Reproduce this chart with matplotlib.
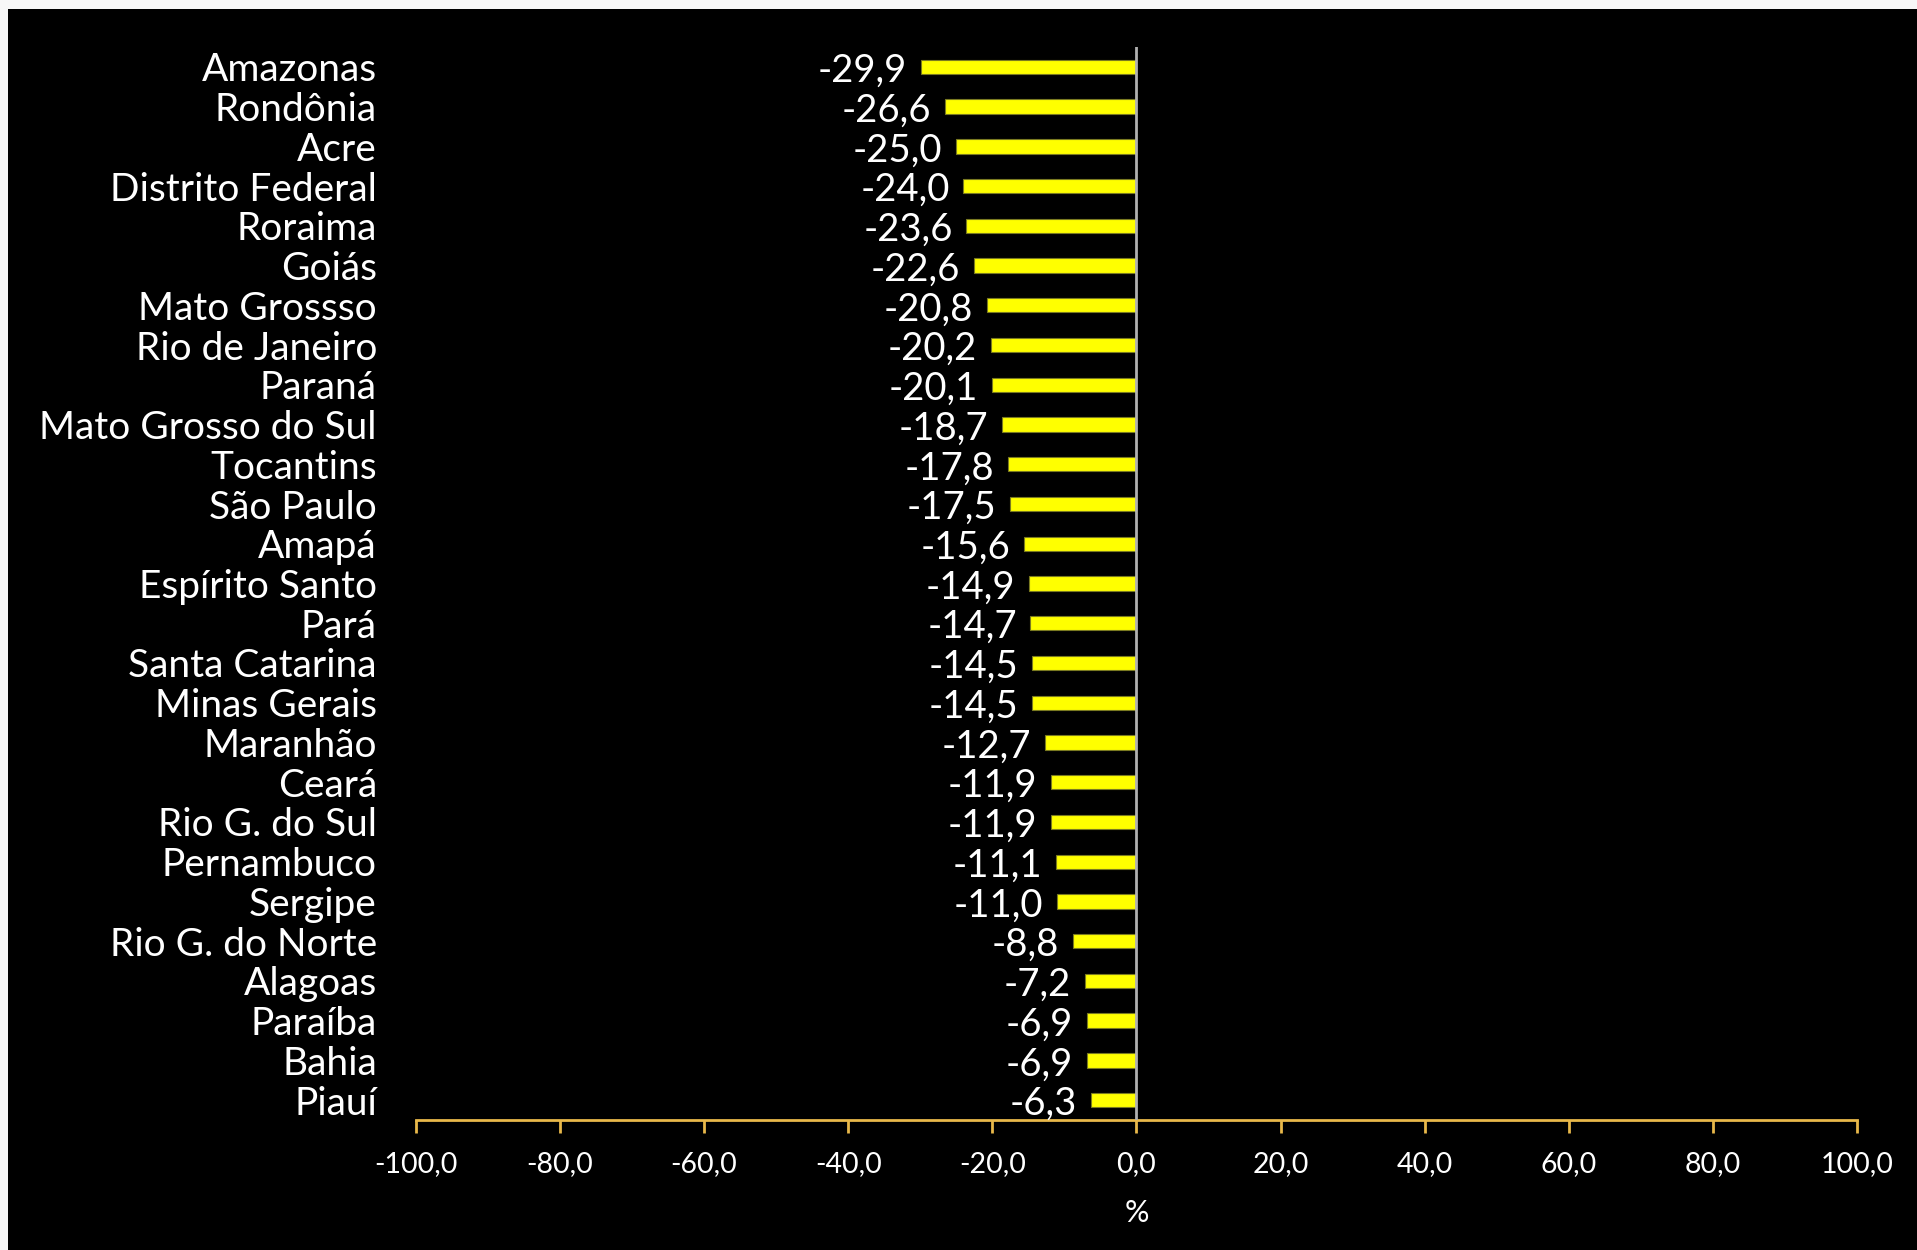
'''Variacao por estado - barras horizontais'''
import matplotlib
matplotlib.use("Agg")
from matplotlib import pyplot as plt
from matplotlib.patches import Rectangle

estados = ["Amazonas", "Rondônia", "Acre", "Distrito Federal", "Roraima", "Goiás",
           "Mato Grossso", "Rio de Janeiro", "Paraná", "Mato Grosso do Sul",
           "Tocantins", "São Paulo", "Amapá", "Espírito Santo", "Pará",
           "Santa Catarina", "Minas Gerais", "Maranhão", "Ceará", "Rio G. do Sul",
           "Pernambuco", "Sergipe", "Rio G. do Norte", "Alagoas", "Paraíba",
           "Bahia", "Piauí"]
variacao = [-29.9, -26.6, -25.0, -24.0, -23.6, -22.6, -20.8, -20.2, -20.1, -18.7,
            -17.8, -17.5, -15.6, -14.9, -14.7, -14.5, -14.5, -12.7, -11.9, -11.9,
            -11.1, -11.0, -8.8, -7.2, -6.9, -6.9, -6.3]
x_ticks = [-100, -80, -60, -40, -20, 0, 20, 40, 60, 80, 100]

plt.rcParams['font.family'] = ['Lato', 'DejaVu Sans']

fig = plt.figure(figsize=(19.17, 12.5), dpi=100, facecolor='#f7f7f7')
# fundo preto com margem clara em cima e na esquerda
fundo = Rectangle((8 / 1917, 0), 1, 1 - 9 / 1250, transform=fig.transFigure,
                  facecolor='black', edgecolor='none', zorder=-10)
fig.add_artist(fundo)

ax = fig.add_axes([0.2169, 0.104, 0.7518, 0.8584])
ax.set_zorder(5)
ax.set_facecolor('black')

pos = list(range(len(estados)))
ax.barh(pos, variacao, height=0.36, color='#ffff00', edgecolor='#7a7a20', linewidth=0.8, zorder=2)

for y, v in zip(pos, variacao):
    txt = F"{v:.1f}".replace('.', ',')
    ax.text(v - 1.9, y + 0.1, txt, ha='right', va='center', color='white', fontsize=27.5)

ax.set_ylim(len(estados) - 0.5, -0.5)
ax.set_xlim(-100, 100)
ax.set_yticks(pos)
ax.set_yticklabels(estados, fontsize=28, color='white')
ax.tick_params(axis='y', length=0, pad=28)
ax.set_xticks(x_ticks)
ax.set_xticklabels([F"{t:.1f}".replace('.', ',') for t in x_ticks], fontsize=20.5, color='white')
ax.tick_params(axis='x', color='#e8b84a', length=9, width=2, direction='out', pad=13)

for side in ['top', 'right', 'left']:
    ax.spines[side].set_visible(False)
ax.spines['bottom'].set_color('#e8b84a')
ax.spines['bottom'].set_linewidth(2)

ax.axvline(0, color='#b0b0b0', linewidth=2, zorder=3)

ax.set_xlabel('%', fontsize=22, color='white', labelpad=16)

plt.savefig('out.png', dpi=100, facecolor=fig.get_facecolor())
plt.close()
